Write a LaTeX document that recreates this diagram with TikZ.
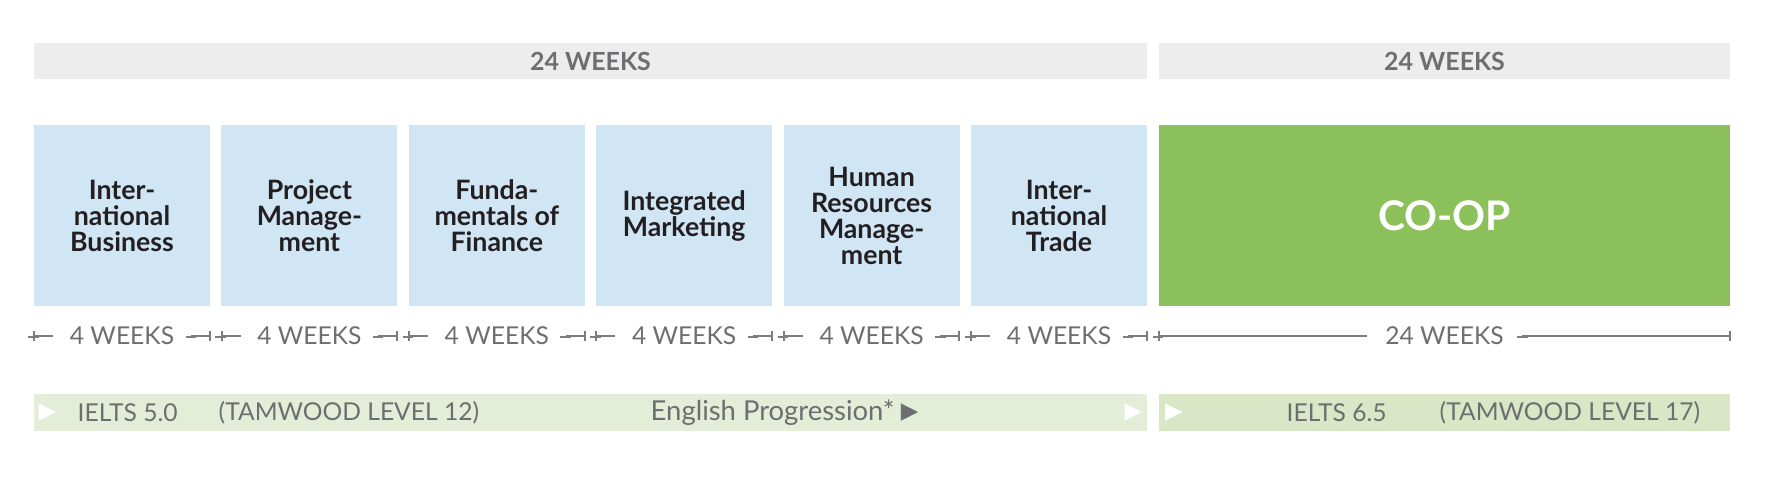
\documentclass[tikz,border=0pt]{standalone}
\usepackage{fontspec}
\setmainfont{Lato}
\newfontfamily\symfont{DejaVu Sans}
\usetikzlibrary{arrows.meta,positioning}

\definecolor{barGray}{HTML}{EDEDED}
\definecolor{courseBlue}{HTML}{D1E6F5}
\definecolor{coopGreen}{HTML}{8BC05A}
\definecolor{engLight}{HTML}{E4EDD8}
\definecolor{engDark}{HTML}{D9E7C7}
\definecolor{txtGray}{HTML}{6E6E70}
\definecolor{txtDark}{HTML}{231F20}

\tikzset{
  topbar/.style={fill=barGray, minimum height=0.36cm, inner sep=0pt, text=txtGray, font=\bfseries\fontsize{7.1}{8}\selectfont},
  course/.style={fill=courseBlue, minimum width=1.76cm, minimum height=1.81cm, inner sep=0pt, align=center, text=txtDark, font=\bfseries\fontsize{7.6}{7.4}\selectfont},
  weeks/.style={inner ysep=0pt, inner xsep=0.16cm, text=txtGray, font=\fontsize{7}{8}\selectfont},
  weekline/.style={draw=txtGray!90, line width=0.55pt},
  engbar/.style={minimum height=0.37cm, inner sep=0pt},
  engtext/.style={anchor=west, inner sep=0pt, text=txtGray, font=\fontsize{7}{8}\selectfont},
  arrowmark/.style={inner sep=0pt, font=\symfont\fontsize{6.5}{7}\selectfont}
}

\begin{document}
\begin{tikzpicture}[x=0.01cm, y=-0.01cm]
        \useasboundingbox (0,0) rectangle (1770,502);

        % duration bars
        \node[topbar, minimum width=11.13cm] (top1) at (590.5,61) {24 WEEKS};
        \node[topbar, minimum width=5.71cm] (top2) at (1444.5,61) {24 WEEKS};

        % courses
        \node[course] (B1) at (122,215.5) {Inter-\\national\\Business};
        \node[course] (B2) at (309.4,215.5) {Project\\Manage-\\ment};
        \node[course] (B3) at (496.8,215.5) {Funda-\\mentals of\\Finance};
        \node[course] (B4) at (684.2,215.5) {Integrated\\Marketing};
        \node[course] (B5) at (871.6,215.5) {Human\\Resources\\Manage-\\ment};
        \node[course] (B6) at (1059,215.5) {Inter-\\national\\Trade};
        \node[fill=coopGreen, minimum width=5.71cm, minimum height=1.81cm, inner sep=0pt,
              text=white, font=\bfseries\fontsize{11.6}{13}\selectfont] (coop) at (1444.5,215.5) {CO-OP};

        % week labels
        \node[weeks] (W1) at (122,336) {4 WEEKS};
        \node[weeks] (W2) at (309.4,336) {4 WEEKS};
        \node[weeks] (W3) at (496.8,336) {4 WEEKS};
        \node[weeks] (W4) at (684.2,336) {4 WEEKS};
        \node[weeks] (W5) at (871.6,336) {4 WEEKS};
        \node[weeks] (W6) at (1059,336) {4 WEEKS};
        \node[weeks, inner xsep=0.18cm] (W7) at (1444.5,336) {24 WEEKS};

        \path [weekline, {Bar[width=3pt]}-] (B1.west |- W1) edge (W1.west);
        \path [weekline, -{Bar[width=3pt]}] (W1.east) edge (B1.east |- W1);
        \path [weekline, {Bar[width=3pt]}-] (B2.west |- W2) edge (W2.west);
        \path [weekline, -{Bar[width=3pt]}] (W2.east) edge (B2.east |- W2);
        \path [weekline, {Bar[width=3pt]}-] (B3.west |- W3) edge (W3.west);
        \path [weekline, -{Bar[width=3pt]}] (W3.east) edge (B3.east |- W3);
        \path [weekline, {Bar[width=3pt]}-] (B4.west |- W4) edge (W4.west);
        \path [weekline, -{Bar[width=3pt]}] (W4.east) edge (B4.east |- W4);
        \path [weekline, {Bar[width=3pt]}-] (B5.west |- W5) edge (W5.west);
        \path [weekline, -{Bar[width=3pt]}] (W5.east) edge (B5.east |- W5);
        \path [weekline, {Bar[width=3pt]}-] (B6.west |- W6) edge (W6.west);
        \path [weekline, -{Bar[width=3pt]}] (W6.east) edge (B6.east |- W6);
        \path [weekline, {Bar[width=3pt]}-] (coop.west |- W7) edge (W7.west);
        \path [weekline, -{Bar[width=3pt]}] (W7.east) edge (coop.east |- W7);

        % english levels
        \node[engbar, fill=engLight, minimum width=11.13cm] (eng1) at (590.5,412.5) {};
        \node[engbar, fill=engDark, minimum width=5.71cm] (eng2) at (1444.5,412.5) {};

        \node[arrowmark, text=white] (m1) at (47.5,412.5) {▶};
        \node[engtext] (ielts1) at (77,412.5) {IELTS 5.0};
        \node[engtext] (lvl1) at (218,412.5) {(TAMWOOD LEVEL 12)};
        \node[engtext, font=\fontsize{7.8}{9}\selectfont] (prog) at (650,412.5) {English Progression*};
        \node[arrowmark, text=txtGray, right=0.05cm of prog] (m2) {▶};
        \node[arrowmark, text=white] (m3) at (1133.5,412.5) {▶};
        \node[arrowmark, text=white] (m4) at (1174,412.5) {▶};
        \node[engtext] (ielts2) at (1286,412.5) {IELTS 6.5};
        \node[engtext] (lvl2) at (1439,412.5) {(TAMWOOD LEVEL 17)};
\end{tikzpicture}
\end{document}
